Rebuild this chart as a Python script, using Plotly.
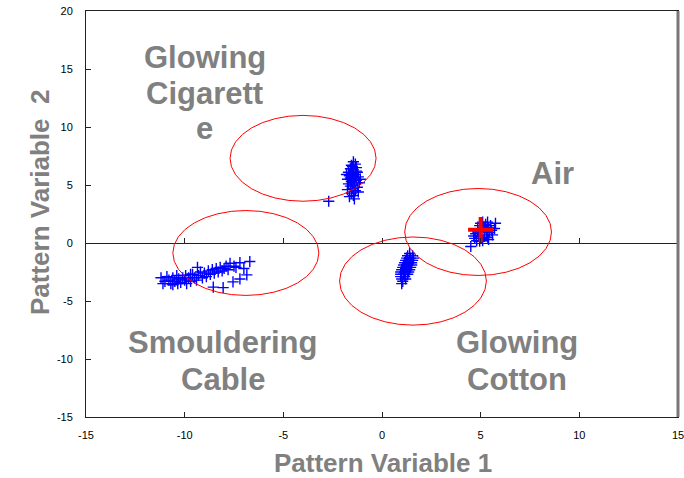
import plotly.graph_objects as go

# ---------------- data ----------------
x_ticks = [-15, -10, -5, 0, 5, 10, 15]
y_ticks = [-15, -10, -5, 0, 5, 10, 15, 20]

cig_x = [-1.45, -1.35, -1.55, -1.3, -1.6, -1.45, -1.7, -1.25, -1.5, -1.35, -1.65, -1.2, -1.45, -1.75,
         -1.3, -1.55, -1.15, -1.7, -1.4, -1.6, -1.25, -1.5, -1.75, -1.35, -1.55, -1.2, -1.45, -1.65,
         -1.4, -1.1, -1.8, -1.5, -1.4, -1.6, -1.3, -2.7]
cig_y = [7.0, 6.8, 6.7, 6.5, 6.4, 6.3, 6.1, 6.1, 6.0, 5.9, 5.8, 5.7, 5.6, 5.5,
         5.4, 5.3, 5.2, 5.1, 5.0, 4.9, 4.8, 4.7, 4.6, 4.5, 4.3, 4.4, 4.1, 4.0,
         3.8, 5.5, 5.9, 6.6, 5.2, 5.6, 6.2, 3.6]

air_x = [4.7, 4.8, 4.75, 4.85, 4.9, 4.95, 5.0, 5.05, 5.1, 5.15, 5.2, 5.25, 5.3, 5.35, 5.4,
         5.45, 5.5, 5.55, 5.6, 5.0, 4.85, 5.2, 5.35, 4.65, 5.1, 5.7, 5.75, 4.5, 4.95, 5.4]
air_y = [0.4, 0.2, 0.8, 1.2, 0.6, 1.5, 1.0, 0.4, 1.8, 1.3, 0.7, 1.6, 1.0, 0.5, 1.3,
         0.9, 1.5, 1.1, 0.7, 1.7, 0.95, 1.15, 1.8, 0.6, 0.2, 1.25, 1.7, -0.3, 0.15, 0.3]

cot_x = [1.4, 1.3, 1.55, 1.25, 1.45, 1.6, 1.2, 1.4, 1.55, 1.15, 1.35, 1.5, 1.1, 1.3, 1.5,
         1.05, 1.25, 1.45, 1.0, 1.2, 1.4, 0.95, 1.15, 1.35, 0.95, 1.1, 1.3, 0.95, 1.15,
         1.0, 1.2, 1.05, 1.0]
cot_y = [-0.9, -1.1, -1.1, -1.3, -1.3, -1.3, -1.5, -1.5, -1.5, -1.7, -1.7, -1.7, -1.9, -1.9, -1.9,
         -2.1, -2.1, -2.1, -2.3, -2.3, -2.3, -2.5, -2.5, -2.5, -2.7, -2.7, -2.7, -2.9, -2.9,
         -3.1, -3.1, -3.3, -3.5]

cab_x = [-11.2, -11.0, -10.9, -10.8, -10.7, -10.6, -10.5, -10.4, -10.3, -10.2, -10.1, -10.0,
         -9.95, -9.9, -9.8, -9.7, -9.6, -9.5, -9.4, -10.6, -10.35, -11.1, -9.3, -9.2, -9.1,
         -9.0, -8.9, -8.8, -8.7, -8.6, -8.5, -8.4, -8.3, -8.2, -8.1, -8.0, -7.9, -7.8, -7.7,
         -7.5, -7.2, -7.4, -6.7, -6.85, -7.2, -7.55, -8.05, -8.55, -9.35, -9.7, -7.0]
cab_y = [-3.0, -3.3, -2.9, -3.2, -3.5, -3.0, -3.3, -2.8, -3.1, -3.4, -3.0, -3.2,
         -2.8, -3.5, -3.0, -3.3, -2.7, -3.0, -3.2, -3.6, -3.5, -3.5, -2.8, -2.5, -3.0,
         -2.6, -2.9, -2.4, -2.7, -2.3, -2.6, -2.2, -2.5, -2.1, -2.4, -2.2, -2.0, -2.3, -1.75,
         -2.0, -1.7, -2.1, -1.6, -2.75, -3.1, -3.35, -3.85, -3.8, -2.1, -2.7, -2.2]

air_centroid_x = [5.0]
air_centroid_y = [1.15]

# class regions: centre x, centre y, radius x, radius y
region_cx = [-4.0, -6.9, 4.87, 1.57]
region_cy = [7.3, -0.86, 0.95, -3.28]
region_rx = [3.7, 3.7, 3.72, 3.72]
region_ry = [3.7, 3.66, 3.75, 3.8]

labels = [("Glowing", -8.97, 16.0), ("Cigarett", -8.97, 12.9), ("e", -8.97, 9.85),
          ("Air", 8.62, 6.0),
          ("Smouldering", -8.06, -8.6), ("Cable", -8.06, -11.8),
          ("Glowing", 6.85, -8.6), ("Cotton", 6.85, -11.8)]

# ---------------- figure ----------------
fig = go.Figure()
blue_marker = dict(symbol="cross-thin", size=8, line=dict(color="#0000ff", width=1.4), color="#0000ff")
for xs, ys in [(cig_x, cig_y), (air_x, air_y), (cot_x, cot_y), (cab_x, cab_y)]:
    fig.add_trace(go.Scatter(x=xs, y=ys, mode="markers", marker=blue_marker,
                             showlegend=False, hoverinfo="skip"))
fig.add_trace(go.Scatter(x=air_centroid_x, y=air_centroid_y, mode="markers",
                         marker=dict(symbol="cross-thin", size=18, color="red",
                                     line=dict(color="#ff0000", width=4)),
                         showlegend=False))
# dummy trace to render the zero-crossing axis
fig.add_trace(go.Scatter(x=[None], y=[None], xaxis="x2", yaxis="y", showlegend=False))

for cx, cy, rx, ry in zip(region_cx, region_cy, region_rx, region_ry):
    fig.add_shape(type="circle", xref="x", yref="y", x0=cx - rx, x1=cx + rx,
                  y0=cy - ry, y1=cy + ry, line=dict(color="#ff0000", width=1))

# right border shadow
fig.add_shape(type="line", xref="paper", yref="paper", x0=1, x1=1, y0=0, y1=1,
              line=dict(color="#777777", width=3))

label_font = dict(family="Liberation Sans, Arial, sans-serif", size=31, color="#808080")
for txt, x, y in labels:
    fig.add_annotation(x=x, y=y, xref="x", yref="y", text=f"<b>{txt}</b>", showarrow=False,
                       xanchor="center", yanchor="middle", font=label_font)

title_font = dict(family="Liberation Sans, Arial, sans-serif", size=26, color="#808080")
fig.add_annotation(x=(383 - 86) / 592, y=(417 - 463) / 406, xref="paper", yref="paper",
                   text="<b>Pattern Variable 1</b>", showarrow=False,
                   xanchor="center", yanchor="middle", font=title_font)
fig.add_annotation(x=(40 - 86) / 592, y=(417 - 203) / 406, xref="paper", yref="paper",
                   text="<b>Pattern Variable\u00a0\u00a02</b>", showarrow=False, textangle=-90,
                   xanchor="center", yanchor="middle", font=title_font)

tick_font = dict(family="Liberation Sans Narrow, Liberation Sans, Arial", size=11, color="#000000")
fig.update_layout(
    width=684, height=478,
    margin=dict(l=86, r=6, t=11, b=61, autoexpand=False),
    paper_bgcolor="white", plot_bgcolor="white",
    xaxis=dict(range=[-15, 15], tickvals=x_ticks, ticktext=[str(v) for v in x_ticks],
               showgrid=False, zeroline=False, showline=True, linecolor="#222222", linewidth=1,
               mirror=True, ticks="inside", ticklen=5, tickcolor="#222222", automargin=False,
               tickfont=tick_font, ticklabelstandoff=8, ticklabeloverflow="allow"),
    xaxis2=dict(range=[-15, 15], overlaying="x", anchor="free", position=15 / 35,
                tickvals=x_ticks, showticklabels=False, showgrid=False, zeroline=False,
                showline=True, linecolor="#222222", linewidth=1, automargin=False,
                ticks="inside", ticklen=5, tickcolor="#222222"),
    yaxis=dict(range=[-15, 20], tickvals=y_ticks, ticktext=[str(v) for v in y_ticks],
               showgrid=False, zeroline=False, showline=True, linecolor="#222222", linewidth=1,
               mirror=True, ticks="inside", ticklen=5, tickcolor="#222222", automargin=False,
               tickfont=tick_font, ticklabelstandoff=10, ticklabeloverflow="allow"),
)

fig.write_html("out.html")
